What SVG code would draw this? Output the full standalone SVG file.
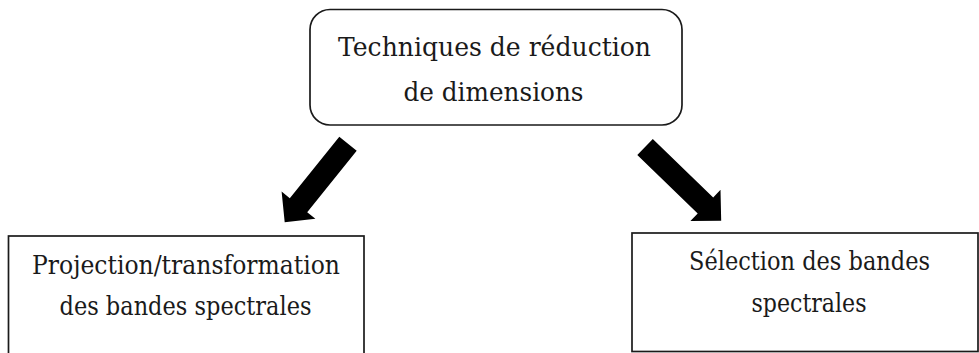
<svg xmlns="http://www.w3.org/2000/svg" width="979" height="353" viewBox="0 0 979 353">
<style>
.box{fill:#fff;stroke:#1a1a1a;stroke-width:1.7}
.arr{fill:#000}
</style>
<rect width="979" height="353" fill="#fff"/>
<g font-family="DejaVu Serif, serif" font-size="26" fill="#1a1a1a" text-anchor="middle">
<g id="node-top">
<rect class="box" x="310" y="9.5" width="372" height="115.5" rx="20" ry="20"/>
<text x="494.5" y="56" textLength="313" lengthAdjust="spacingAndGlyphs">Techniques de réduction</text>
<text x="493.5" y="101" textLength="180" lengthAdjust="spacingAndGlyphs">de dimensions</text>
</g>
<g id="node-left">
<rect class="box" x="8.5" y="236" width="355.5" height="130"/>
<text x="186" y="274" textLength="308" lengthAdjust="spacingAndGlyphs">Projection/transformation</text>
<text x="185.5" y="315" textLength="252" lengthAdjust="spacingAndGlyphs">des bandes spectrales</text>
</g>
<g id="node-right">
<rect class="box" x="632" y="233" width="346" height="118.5"/>
<text x="809.5" y="270" textLength="241" lengthAdjust="spacingAndGlyphs">Sélection des bandes</text>
<text x="809" y="312" textLength="115" lengthAdjust="spacingAndGlyphs">spectrales</text>
</g>
</g>
<g id="connectors">
<polygon class="arr" points="356.7,150.7 339.3,136.7 289.8,198.2 281.6,191.6 284.7,222.3 315.4,218.8 307.2,212.2"/>
<polygon class="arr" points="637.3,155 652.8,139 713.2,197.4 720.5,189.8 721.2,220.7 690.4,221 697.7,213.4"/>
</g>
</svg>
